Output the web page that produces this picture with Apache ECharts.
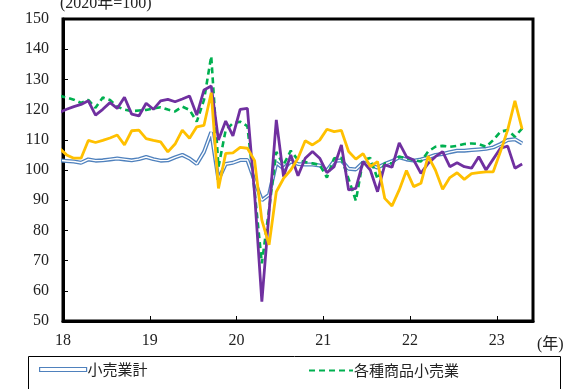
<!DOCTYPE html>
<html><head><meta charset="utf-8">
<script src="https://cdn.jsdelivr.net/npm/echarts@6/dist/echarts.min.js"></script>
<style>html,body{margin:0;padding:0;background:#fff}#c{width:573px;height:389px}</style>
</head><body><div id="c"></div>
<script>
// Monthly values, Dec 2017 .. Apr 2023 (first value lies just left of the axis and is clipped)
const yearLabels = ['18','19','20','21','22','23'];
const retailTotal = [103.2,
 103.0,102.8,102.4,103.5,103.1,103.2,103.5,103.8,103.5,103.2,103.6,104.3,
 103.6,103.1,103.2,104.2,105.0,103.8,102.0,106.0,112.5,96.8,102.0,102.4,
 103.3,103.3,96.5,90.0,91.8,102.4,100.5,102.8,102.0,101.8,101.8,101.5,
 99.8,103.0,103.2,100.4,100.2,102.5,101.6,100.8,102.0,102.9,104.2,103.5,
 103.1,103.5,104.2,105.0,105.3,105.9,106.4,106.4,106.6,106.8,107.0,107.5,
 108.6,109.9,110.2,108.8];
const generalMerch = [124.6,
 124.0,123.3,122.2,123.2,120.6,124.0,123.2,121.0,120.0,119.5,119.7,119.9,
 120.4,120.8,120.0,119.4,121.0,119.9,116.0,123.2,137.7,101.0,113.2,115.5,
 116.0,114.5,93.0,69.1,87.0,106.0,101.7,106.4,103.3,102.6,102.2,101.7,
 97.5,103.9,104.0,97.0,89.8,103.3,104.0,97.0,102.2,102.2,104.4,103.9,
 103.3,102.8,106.1,107.7,108.0,107.7,108.0,108.6,108.8,108.6,107.7,109.9,
 112.7,113.2,111.0,113.8];
const purpleSeries = [119.1,
 120.1,121.0,121.7,122.9,118.2,120.1,122.3,120.4,124.1,118.5,117.9,122.1,
 120.1,122.9,123.4,122.6,123.5,124.5,118.2,126.5,127.8,109.9,116.2,111.3,
 120.1,120.4,92.0,56.4,86.0,116.6,97.8,105.0,98.1,103.9,106.1,103.9,
 99.1,101.1,108.3,93.4,93.9,102.8,100.0,92.8,101.7,100.9,109.0,104.4,
 103.3,98.9,102.2,104.4,106.1,101.1,102.4,101.1,100.6,104.4,100.0,103.6,
 107.2,107.9,100.6,102.0];
const yellowSeries = [107.2,
 105.0,103.9,103.9,109.8,109.1,109.8,110.6,111.6,108.3,113.0,113.2,110.4,
 109.8,109.3,106.0,108.6,113.2,110.5,114.3,114.8,125.6,93.9,105.5,105.7,
 107.5,107.2,103.1,83.4,75.2,92.8,97.2,100.0,103.9,109.7,108.3,109.9,
 113.5,112.7,113.1,106.1,103.6,105.4,101.1,102.8,90.6,88.1,93.4,99.8,
 94.5,95.6,104.6,100.0,93.6,97.5,99.1,96.9,98.8,99.1,99.4,99.4,
 106.1,113.3,122.9,113.5];

const toPts = arr => arr.map((v, k) => [k - 0.5, v]);
const serif = "'Liberation Serif','DejaVu Serif','Noto Sans CJK JP',serif";
const cjk = "'Noto Sans CJK JP','Noto Sans',sans-serif";

const chart = echarts.init(document.getElementById('c'));
chart.setOption({
  animation: false,
  grid: {left: 63, right: 40, top: 19, bottom: 68, show: true, borderColor: '#000', borderWidth: 3},
  xAxis: {
    type: 'value', min: 0, max: 65, interval: 12,
    axisLine: {lineStyle: {color: '#000', width: 3}},
    axisTick: {inside: true, length: 5, lineStyle: {color: '#000', width: 1}},
    splitLine: {show: false},
    axisLabel: {
      margin: 12, color: '#222', fontFamily: serif, fontSize: 16,
      formatter: v => (v % 12 === 0 && yearLabels[v / 12] !== undefined) ? yearLabels[v / 12] : ''
    }
  },
  yAxis: {
    type: 'value', min: 50, max: 150, interval: 10,
    axisLine: {show: true, lineStyle: {color: '#000', width: 3}},
    axisTick: {show: true, inside: true, length: 5, lineStyle: {color: '#000', width: 1}},
    splitLine: {show: false},
    axisLabel: {margin: 14, color: '#222', fontFamily: serif, fontSize: 16}
  },
  legend: [
    {data: [{name: '小売業計', icon: 'rect', itemStyle: {color: '#fff', borderColor: '#4f81bd', borderWidth: 1.2}}],
     left: 34, top: 357, itemWidth: 47, itemHeight: 4, itemGap: 4,
     textStyle: {fontFamily: cjk, fontSize: 15, color: '#222', padding: [0,0,0,-4]}},
    {data: [{name: '各種商品小売業', itemStyle: {opacity: 0}}],
     left: 303, top: 358, itemWidth: 44, itemHeight: 14,
     textStyle: {fontFamily: cjk, fontSize: 15, color: '#222', padding: [0,0,0,-4]}}
  ],
  graphic: [
    {type: 'rect', left: 26, top: 354, shape: {width: 532, height: 60}, style: {fill: 'none', stroke: '#000', lineWidth: 1}, z: -1},
    {type: 'text', left: 60, top: -4, style: {text: '(2020年=100)', font: "16px " + serif, fill: '#222'}},
    {type: 'text', left: 537, top: 337, style: {text: '(年)', font: "16px " + serif, fill: '#222'}}
  ],
  series: [
    {name: '小売業計', type: 'line', data: toPts(retailTotal), showSymbol: false, symbol: 'none',
     lineStyle: {color: '#4f81bd', width: 4}, itemStyle: {color: '#4f81bd'}, z: 2},
    {name: '小売業計_inner', type: 'line', data: toPts(retailTotal), showSymbol: false, symbol: 'none',
     lineStyle: {color: '#fff', width: 1.4}, z: 3, silent: true},
    {name: '各種商品小売業', type: 'line', data: toPts(generalMerch), showSymbol: false, symbol: 'none',
     lineStyle: {color: '#00b050', width: 2.6, type: [6, 4]}, itemStyle: {color: '#00b050'}, z: 4},
    {name: '小売(紫)', type: 'line', data: toPts(purpleSeries), showSymbol: false, symbol: 'none',
     lineStyle: {color: '#7030a0', width: 2.8}, itemStyle: {color: '#7030a0'}, z: 5},
    {name: '小売(黄)', type: 'line', data: toPts(yellowSeries), showSymbol: false, symbol: 'none',
     lineStyle: {color: '#ffc000', width: 2.8}, itemStyle: {color: '#ffc000'}, z: 6}
  ]
});
</script></body></html>
